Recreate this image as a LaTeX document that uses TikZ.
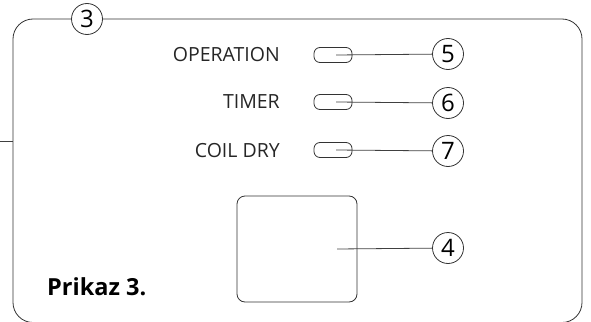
\documentclass[tikz,border=0pt]{standalone}
\usepackage{fontspec}
\setmainfont{Open Sans}
\usetikzlibrary{positioning}

\begin{document}
\begin{tikzpicture}[x=1pt,y=-1pt]
                % define styles
\tikzset{callout/.style={circle,
                         draw=black!80,
                         fill=white,
                         line width=0.8pt,
                         inner sep=0,
                         minimum size=31pt,
                         font=\fontsize{24}{24}\selectfont,
                         },
         led/.style={rectangle,
                     rounded corners=6pt,
                     draw=black!80,
                     line width=0.8pt,
                     inner sep=0,
                     minimum width=38pt,
                     minimum height=15pt,
                     },
         ledlabel/.style={anchor=east,
                          inner sep=0,
                          text=black!85,
                          font=\fontsize{19.5}{19.5}\selectfont,
                          },
         leader/.style={draw=black!75,
                        line width=0.8pt,
                        }
}

\useasboundingbox (0,0) rectangle (591,321);

\begin{scope}
    \clip (0,0) rectangle (591,321);

    % outer frame
    \draw[black!80,line width=0.8pt,rounded corners=20pt]
        (13,19) rectangle (582,322.5);
    \coordinate (stub) at (0,141);
    \draw[leader] (stub) -- (13,141);

    % nodes
    \node[callout] (c3) at (87,19) {3};

    \foreach \name/\y in {led5/55, led6/102, led7/150}
        \node[led] (\name) at (333,\y) {};

    \node[ledlabel] (l5) at (280,55)  {OPERATION};
    \node[ledlabel] (l6) at (280,102) {TIMER};
    \node[ledlabel] (l7) at (280,151) {COIL DRY};

    \node[rectangle,rounded corners=8pt,draw=black!80,line width=0.8pt,
          minimum width=120pt,minimum height=106pt] (key) at (297,249) {};

    \foreach \idx/\y in {5/54, 6/103, 7/151, 4/248}
        \node[callout] (c\idx) at (448,\y) {\idx};

    % leader lines
    \foreach \idx in {5,6,7}
        \draw[leader] ([xshift=3pt]led\idx.center) -- (c\idx);
    \draw[leader] ([xshift=40pt]key.center) -- (c4);

    % labels
    \node[anchor=west,inner sep=0,font=\bfseries\fontsize{23.5}{23.5}\selectfont]
        (title) at (47,287) {Prikaz 3.};
\end{scope}
\end{tikzpicture}
\end{document}
